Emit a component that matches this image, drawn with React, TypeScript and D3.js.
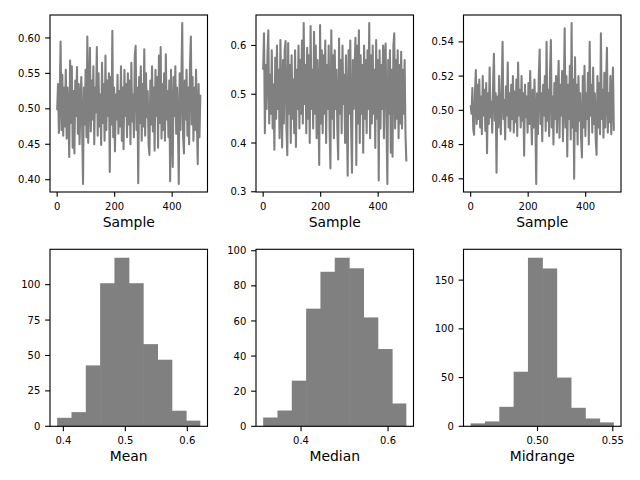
import React from "react";
import * as d3 from "d3";

// ---- data ----
// Line series: one value every 3 samples (sample index = i * 3)
const SAMPLE_STEP = 3;
const MEAN_SERIES = [
  0.498, 0.535, 0.466, 0.52, 0.595, 0.47, 0.548, 0.462, 0.53, 0.475,
  0.555, 0.458, 0.53, 0.49, 0.432, 0.568, 0.48, 0.56, 0.445, 0.525,
  0.437, 0.54, 0.49, 0.559, 0.465, 0.535, 0.45, 0.51, 0.545, 0.47,
  0.394, 0.53, 0.478, 0.555, 0.46, 0.602, 0.452, 0.52, 0.586, 0.468,
  0.54, 0.485, 0.56, 0.45, 0.53, 0.495, 0.587, 0.462, 0.55, 0.475,
  0.52, 0.449, 0.565, 0.48, 0.535, 0.455, 0.575, 0.47, 0.54, 0.49,
  0.55, 0.411, 0.545, 0.478, 0.61, 0.46, 0.53, 0.44, 0.52, 0.485,
  0.548, 0.465, 0.525, 0.475, 0.56, 0.455, 0.53, 0.443, 0.555, 0.49,
  0.535, 0.46, 0.55, 0.478, 0.54, 0.45, 0.565, 0.482, 0.52, 0.46,
  0.575, 0.589, 0.47, 0.53, 0.395, 0.545, 0.48, 0.56, 0.455, 0.535,
  0.475, 0.584, 0.462, 0.55, 0.488, 0.525, 0.45, 0.435, 0.54, 0.478,
  0.56, 0.468, 0.53, 0.441, 0.555, 0.49, 0.545, 0.445, 0.575, 0.48,
  0.587, 0.458, 0.535, 0.47, 0.55, 0.455, 0.577, 0.485, 0.525, 0.46,
  0.54, 0.398, 0.555, 0.475, 0.418, 0.545, 0.49, 0.56, 0.465, 0.53,
  0.48, 0.394, 0.55, 0.47, 0.535, 0.621, 0.46, 0.437, 0.54, 0.485,
  0.555, 0.462, 0.53, 0.45, 0.56, 0.602, 0.478, 0.545, 0.455, 0.53,
  0.47, 0.555, 0.48, 0.422, 0.535, 0.46, 0.52,
];
const MEDIAN_SERIES = [
  0.55, 0.625, 0.42, 0.56, 0.47, 0.58, 0.631, 0.44, 0.54, 0.46,
  0.59, 0.43, 0.52, 0.386, 0.575, 0.45, 0.6, 0.47, 0.55, 0.41,
  0.611, 0.48, 0.391, 0.57, 0.44, 0.59, 0.609, 0.43, 0.375, 0.605,
  0.46, 0.56, 0.4, 0.58, 0.45, 0.53, 0.42, 0.59, 0.392, 0.55,
  0.47, 0.6, 0.43, 0.57, 0.46, 0.61, 0.44, 0.646, 0.48, 0.56,
  0.42, 0.595, 0.45, 0.58, 0.4, 0.64, 0.47, 0.55, 0.43, 0.628,
  0.46, 0.6, 0.41, 0.57, 0.48, 0.355, 0.642, 0.44, 0.59, 0.42,
  0.58, 0.46, 0.61, 0.4, 0.56, 0.47, 0.6, 0.43, 0.348, 0.631,
  0.45, 0.58, 0.41, 0.59, 0.47, 0.55, 0.43, 0.366, 0.614, 0.46,
  0.57, 0.42, 0.6, 0.48, 0.54, 0.4, 0.58, 0.45, 0.333, 0.59,
  0.46, 0.61, 0.43, 0.339, 0.57, 0.47, 0.55, 0.616, 0.355, 0.6,
  0.44, 0.631, 0.4, 0.58, 0.46, 0.56, 0.38, 0.6, 0.45, 0.57,
  0.42, 0.59, 0.47, 0.646, 0.41, 0.58, 0.44, 0.6, 0.46, 0.55,
  0.39, 0.611, 0.45, 0.57, 0.323, 0.59, 0.43, 0.56, 0.47, 0.6,
  0.41, 0.58, 0.604, 0.44, 0.316, 0.57, 0.46, 0.59, 0.38, 0.55,
  0.372, 0.6, 0.625, 0.43, 0.57, 0.45, 0.59, 0.41, 0.56, 0.44,
  0.587, 0.43, 0.55, 0.46, 0.57, 0.42, 0.362,
];
const MIDRANGE_SERIES = [
  0.503, 0.498, 0.513, 0.489, 0.4857, 0.51, 0.5235, 0.492, 0.515, 0.495,
  0.518, 0.49, 0.508, 0.486, 0.52, 0.497, 0.512, 0.488, 0.516, 0.475,
  0.51, 0.492, 0.525, 0.496, 0.505, 0.487, 0.515, 0.533, 0.494, 0.51,
  0.4635, 0.508, 0.49, 0.52, 0.498, 0.486, 0.512, 0.54, 0.495, 0.506,
  0.483, 0.514, 0.497, 0.528, 0.49, 0.51, 0.488, 0.515, 0.495, 0.52,
  0.487, 0.511, 0.493, 0.518, 0.485, 0.528, 0.497, 0.512, 0.49, 0.52,
  0.494, 0.51, 0.4735, 0.515, 0.496, 0.508, 0.487, 0.516, 0.492, 0.523,
  0.498, 0.48, 0.512, 0.49, 0.518, 0.495, 0.457, 0.51, 0.486, 0.52,
  0.5355, 0.492, 0.51, 0.482, 0.515, 0.497, 0.52, 0.488, 0.54, 0.494,
  0.512, 0.485, 0.522, 0.541, 0.49, 0.508, 0.48, 0.516, 0.495, 0.52,
  0.487, 0.51, 0.529, 0.484, 0.515, 0.497, 0.523, 0.482, 0.51, 0.548,
  0.49, 0.52, 0.473, 0.515, 0.495, 0.526, 0.483, 0.551, 0.49, 0.518,
  0.46, 0.531, 0.488, 0.515, 0.48, 0.52, 0.494, 0.51, 0.484, 0.4725,
  0.52, 0.49, 0.526, 0.485, 0.51, 0.495, 0.522, 0.48, 0.54, 0.497,
  0.515, 0.487, 0.525, 0.492, 0.51, 0.483, 0.474, 0.52, 0.49, 0.516,
  0.486, 0.545, 0.495, 0.512, 0.484, 0.522, 0.49, 0.515, 0.5365, 0.487,
  0.51, 0.493, 0.52, 0.486, 0.508, 0.525, 0.488,
];

// Histogram counts (10 bins) and bin ranges [min, max]
const MEAN_COUNTS = [6, 10, 43, 101, 119, 101, 58, 47, 11, 4];
const MEAN_RANGE = [0.39, 0.621];
const MEDIAN_COUNTS = [5, 9, 26, 67, 88, 96, 90, 62, 44, 13];
const MEDIAN_RANGE = [0.313, 0.642];
const MIDRANGE_COUNTS = [3, 5, 20, 56, 173, 162, 50, 19, 8, 4];
const MIDRANGE_RANGE = [0.4556, 0.5507];

// Tick values
const SAMPLE_TICKS = [0, 200, 400];
const MEAN_LINE_YTICKS = [0.4, 0.45, 0.5, 0.55, 0.6];
const MEDIAN_LINE_YTICKS = [0.3, 0.4, 0.5, 0.6];
const MIDRANGE_LINE_YTICKS = [0.46, 0.48, 0.5, 0.52, 0.54];
const MEAN_HIST_XTICKS = [0.4, 0.5, 0.6];
const MEAN_HIST_YTICKS = [0, 25, 50, 75, 100];
const MEDIAN_HIST_XTICKS = [0.4, 0.6];
const MEDIAN_HIST_YTICKS = [0, 20, 40, 60, 80, 100];
const MIDRANGE_HIST_XTICKS = [0.5, 0.55];
const MIDRANGE_HIST_YTICKS = [0, 50, 100, 150];

const LABELS = ["Mean", "Median", "Midrange"];

// ---- layout ----
const W = 640;
const H = 480;
const COL_X = [50, 256, 463.5];
const ROW_Y = [15, 249.3];
const PW = 157.5;
const PH = 177;
const GRAY = "#808080";
const FONT = "DejaVu Sans, sans-serif";
const TICK_LEN = 4.86;
const AX_W = 1.11;

function pad(lo: number, hi: number): [number, number] {
  const r = hi - lo;
  return [lo - 0.05 * r, hi + 0.05 * r];
}

type AxesProps = {
  x0: number;
  y0: number;
  xScale: d3.ScaleLinear<number, number>;
  yScale: d3.ScaleLinear<number, number>;
  xTicks: number[];
  yTicks: number[];
  xFmt: (v: number) => string;
  yFmt: (v: number) => string;
  xLabel: string;
  children?: React.ReactNode;
};

function Axes({ x0, y0, xScale, yScale, xTicks, yTicks, xFmt, yFmt, xLabel, children }: AxesProps) {
  return (
    <g transform={`translate(${x0},${y0})`}>
      {children}
      <rect x={0} y={0} width={PW} height={PH} fill="none" stroke="#000" strokeWidth={AX_W} />
      {xTicks.map((t) => (
        <g key={"x" + t} transform={`translate(${xScale(t)},${PH})`}>
          <line y1={0} y2={TICK_LEN} stroke="#000" strokeWidth={AX_W} />
          <text y={17.6} textAnchor="middle" fontSize={10} fontFamily={FONT} fill="#000">
            {xFmt(t)}
          </text>
        </g>
      ))}
      {yTicks.map((t) => (
        <g key={"y" + t} transform={`translate(0,${yScale(t)})`}>
          <line x1={0} x2={-TICK_LEN} stroke="#000" strokeWidth={AX_W} />
          <text x={-9.7} y={3.6} textAnchor="end" fontSize={10} fontFamily={FONT} fill="#000">
            {yFmt(t)}
          </text>
        </g>
      ))}
      <text x={PW / 2} y={PH + 34.8} textAnchor="middle" fontSize={13.9} fontFamily={FONT} fill="#000">
        {xLabel}
      </text>
    </g>
  );
}

function LinePanel({ series, col, yTicks, yFmt }: { series: number[]; col: number; yTicks: number[]; yFmt: (v: number) => string }) {
  const n = series.length;
  const lastX = (n - 1) * SAMPLE_STEP;
  const x = d3.scaleLinear().domain(pad(0, lastX)).range([0, PW]);
  const ext = d3.extent(series) as [number, number];
  const y = d3.scaleLinear().domain(pad(ext[0], ext[1])).range([PH, 0]);
  const line = d3
    .line<number>()
    .x((_, i) => x(i * SAMPLE_STEP))
    .y((d) => y(d));
  return (
    <Axes
      x0={COL_X[col]}
      y0={ROW_Y[0]}
      xScale={x}
      yScale={y}
      xTicks={SAMPLE_TICKS}
      yTicks={yTicks}
      xFmt={d3.format("d")}
      yFmt={yFmt}
      xLabel="Sample"
    >
      <path d={line(series) || ""} fill="none" stroke={GRAY} strokeWidth={2.08} strokeLinejoin="round" />
    </Axes>
  );
}

function HistPanel({
  counts,
  range,
  col,
  xTicks,
  yTicks,
  xFmt,
  label,
}: {
  counts: number[];
  range: number[];
  col: number;
  xTicks: number[];
  yTicks: number[];
  xFmt: (v: number) => string;
  label: string;
}) {
  const x = d3.scaleLinear().domain(pad(range[0], range[1])).range([0, PW]);
  const maxC = d3.max(counts) as number;
  const y = d3.scaleLinear().domain([0, maxC * 1.05]).range([PH, 0]);
  const bw = (range[1] - range[0]) / counts.length;
  return (
    <Axes
      x0={COL_X[col]}
      y0={ROW_Y[1]}
      xScale={x}
      yScale={y}
      xTicks={xTicks}
      yTicks={yTicks}
      xFmt={xFmt}
      yFmt={d3.format("d")}
      xLabel={label}
    >
      {counts.map((c, i) => {
        const a = x(range[0] + i * bw);
        const b = x(range[0] + (i + 1) * bw);
        const extra = i < counts.length - 1 ? 0.6 : 0;
        return <rect key={i} x={a} y={y(c)} width={b - a + extra} height={y(0) - y(c)} fill={GRAY} />;
      })}
    </Axes>
  );
}

export default function App() {
  return (
    <svg width={W} height={H} viewBox={`0 0 ${W} ${H}`} style={{ display: "block", position: "absolute", left: 0, top: 0, background: "#fff" }}>
      <rect width={W} height={H} fill="#fff" />
      <LinePanel series={MEAN_SERIES} col={0} yTicks={MEAN_LINE_YTICKS} yFmt={d3.format(".2f")} />
      <LinePanel series={MEDIAN_SERIES} col={1} yTicks={MEDIAN_LINE_YTICKS} yFmt={d3.format(".1f")} />
      <LinePanel series={MIDRANGE_SERIES} col={2} yTicks={MIDRANGE_LINE_YTICKS} yFmt={d3.format(".2f")} />
      <HistPanel counts={MEAN_COUNTS} range={MEAN_RANGE} col={0} xTicks={MEAN_HIST_XTICKS} yTicks={MEAN_HIST_YTICKS} xFmt={d3.format(".1f")} label={LABELS[0]} />
      <HistPanel counts={MEDIAN_COUNTS} range={MEDIAN_RANGE} col={1} xTicks={MEDIAN_HIST_XTICKS} yTicks={MEDIAN_HIST_YTICKS} xFmt={d3.format(".1f")} label={LABELS[1]} />
      <HistPanel counts={MIDRANGE_COUNTS} range={MIDRANGE_RANGE} col={2} xTicks={MIDRANGE_HIST_XTICKS} yTicks={MIDRANGE_HIST_YTICKS} xFmt={d3.format(".2f")} label={LABELS[2]} />
    </svg>
  );
}
